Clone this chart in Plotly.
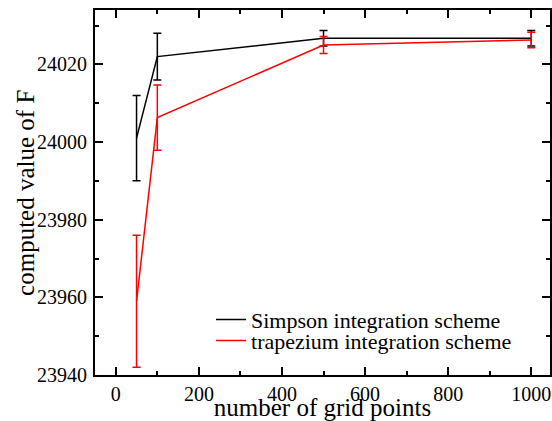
import plotly.graph_objects as go

grid_points = [50, 100, 500, 1000]
simpson_vals = [24001.0, 24022.0, 24026.7, 24026.7]
simpson_err = [11.0, 6.0, 2.0, 2.0]
trap_vals = [23959.0, 24006.3, 24025.0, 24026.3]
trap_err = [17.0, 8.4, 2.2, 2.0]
x_ticks = [0, 200, 400, 600, 800, 1000]
y_ticks = [23940, 23960, 23980, 24000, 24020]

font_family = "Liberation Serif"

fig = go.Figure()
fig.add_trace(go.Scatter(
    x=grid_points, y=simpson_vals, mode="lines", name="Simpson integration scheme",
    line=dict(color="black", width=1.5), legend="legend",
    error_y=dict(type="data", array=simpson_err, visible=True, color="black", thickness=1.5, width=4),
))
fig.add_trace(go.Scatter(
    x=grid_points, y=trap_vals, mode="lines", name="trapezium integration scheme",
    line=dict(color="red", width=1.5), legend="legend2",
    error_y=dict(type="data", array=trap_err, visible=True, color="red", thickness=1.5, width=4),
))

axis_common = dict(
    showline=True, linecolor="black", linewidth=2, mirror="ticks",
    ticks="inside", tickcolor="black", tickwidth=1.5, ticklen=8,
    showgrid=False, zeroline=False, automargin=False,
    tickfont=dict(family=font_family, size=20, color="black"),
)

fig.update_xaxes(
    range=[-50, 1045], tickvals=x_ticks, ticktext=[str(v) for v in x_ticks],
    minor=dict(ticks="inside", dtick=100, tick0=0, ticklen=4, tickcolor="black", tickwidth=1.5),
    title=dict(text="number of grid points", font=dict(family=font_family, size=25, color="black"), standoff=4),
    ticklabelstandoff=0,
    **axis_common,
)
fig.update_yaxes(
    range=[23940, 24034], tickvals=y_ticks, ticktext=[str(v) for v in y_ticks],
    minor=dict(ticks="inside", dtick=10, tick0=23940, ticklen=4, tickcolor="black", tickwidth=1.5),
    ticklabelstandoff=2,
    **axis_common,
)

fig.add_annotation(
    text="computed value of F", textangle=-90,
    xref="paper", yref="paper", x=-0.153, y=0.5,
    xanchor="center", yanchor="middle", showarrow=False,
    font=dict(family=font_family, size=25, color="black"),
)

legend_common = dict(
    xanchor="left", yanchor="top",
    bgcolor="rgba(0,0,0,0)", borderwidth=0,
    font=dict(family=font_family, size=22, color="black"),
    tracegroupgap=0, itemwidth=30,
)

fig.update_layout(
    width=552, height=421,
    margin=dict(l=95, r=2, t=10, b=46, autoexpand=False),
    paper_bgcolor="white", plot_bgcolor="white",
    showlegend=True,
    legend=dict(x=0.255, y=0.209, **legend_common),
    legend2=dict(x=0.255, y=0.1515, **legend_common),
)

fig.write_html("out.html")
